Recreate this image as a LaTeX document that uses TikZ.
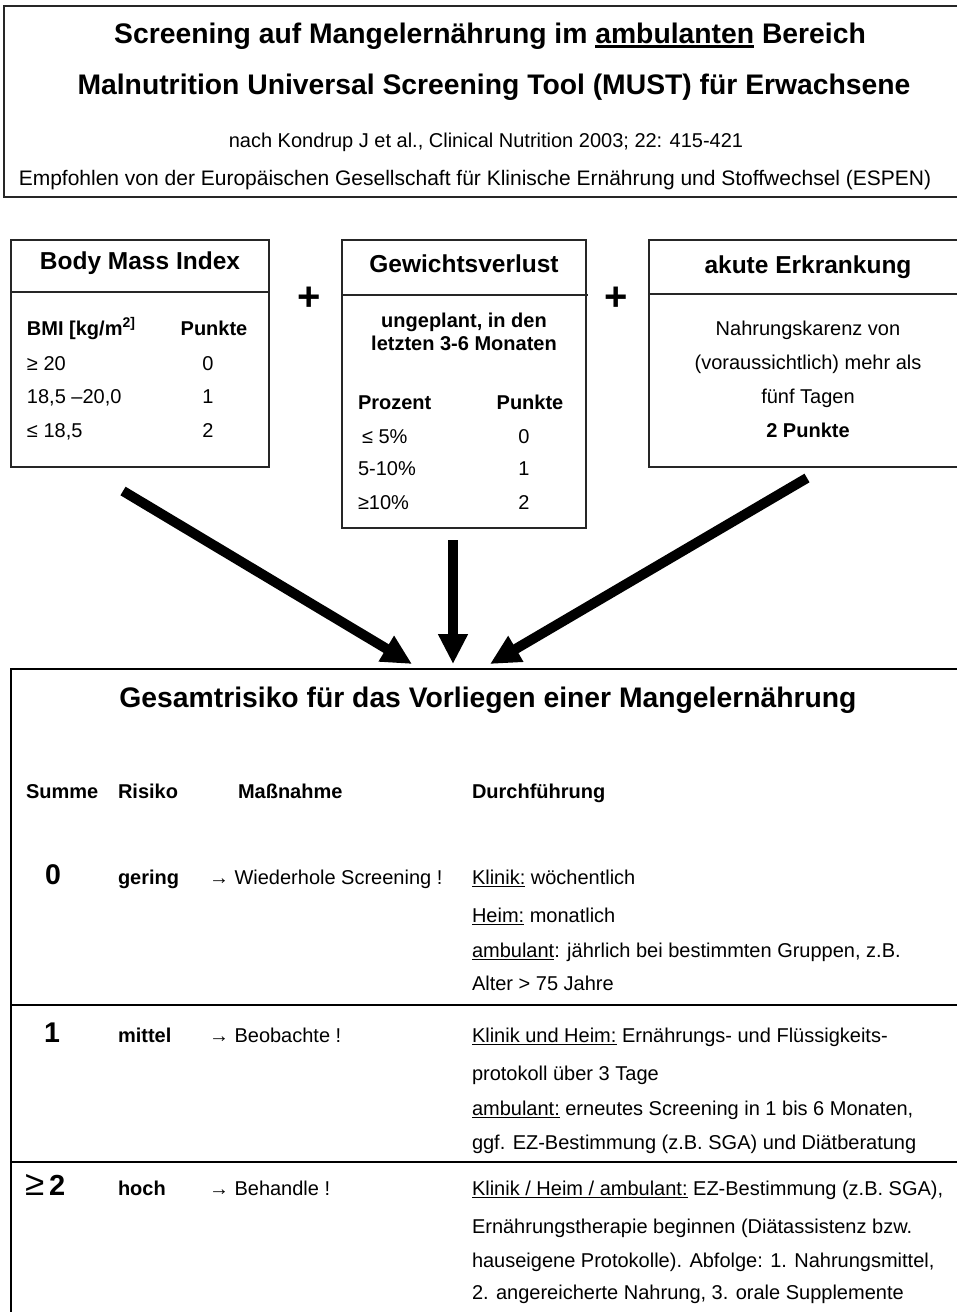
\documentclass[tikz,border=0pt]{standalone}
\usepackage{fontspec}
\setmainfont{Liberation Sans}
\usetikzlibrary{arrows.meta}
\newcommand\myul[1]{\setbox0\hbox{#1}\rlap{\rule[-2.8pt]{\wd0}{1.3pt}}\box0\relax}
\newcommand\myulT[1]{\setbox0\hbox{#1}\rlap{\rule[-4.5pt]{\wd0}{2.4pt}}\box0\relax}
\tikzset{
  every node/.style={inner sep=0pt, outer sep=0pt},
  tb/.style={font=\fontsize{28.3}{32}\selectfont\bfseries},
  hb/.style={font=\fontsize{24.5}{28}\selectfont\bfseries},
  bt/.style={font=\fontsize{20}{24}\selectfont},
  bb/.style={font=\fontsize{20}{24}\selectfont\bfseries},
  bignum/.style={font=\fontsize{28.5}{32}\selectfont\bfseries},
  plus/.style={font=\fontsize{40}{40}\selectfont\bfseries},
  frame/.style={draw=black!85, line width=1.3pt},
  tframe/.style={draw=black, line width=2.5pt},
  bigarrow/.style={line width=10pt, -{Triangle[length=30pt,width=28pt]}},
}
\begin{document}
\begin{tikzpicture}[x=1pt,y=-1pt]
\useasboundingbox (0,0) rectangle (957,1312);
\fill[white] (0,0) rectangle (957,1312);
\clip (0,0) rectangle (957,1312);

% ---------- header ----------
\draw[frame] (975,6) -- (4,6) -- (4,197) -- (975,197);
\node[tb, anchor=base] (t1) at (490,43) {Screening auf Mangelernährung im \myulT{ambulanten} Bereich};
\node[tb, anchor=base] (t2) at (494,94) {Malnutrition Universal Screening Tool (MUST) für Erwachsene};
\node[bt, anchor=base] (t3) at (486,147) {nach Kondrup J et al., Clinical Nutrition 2003; 22: 415-421};
\node[anchor=base, font=\fontsize{21}{24}\selectfont] (t4) at (475,185) {Empfohlen von der Europäischen Gesellschaft für Klinische Ernährung und Stoffwechsel (ESPEN)};

% ---------- box 1: BMI ----------
\draw[frame] (11,240) rectangle (269,467);
\draw[frame] (11,292) -- (269,292);
\node[hb, anchor=base] (bmi) at (140,269) {Body Mass Index};
\node[bb, anchor=base west] (bmih) at (27,335) {BMI [kg/m\textsuperscript{2]}};
\node[bb, anchor=base] (bmip) at (214,335) {Punkte};
\node[bt, anchor=base west] (b1) at (27,370) {≥ 20};
\node[bt, anchor=base west] (b2) at (27,403) {18,5 –20,0};
\node[bt, anchor=base west] (b3) at (27,437) {≤ 18,5};
\node[bt, anchor=base] (b1p) at (208,370) {0};
\node[bt, anchor=base] (b2p) at (208,403) {1};
\node[bt, anchor=base] (b3p) at (208,437) {2};

\node[plus] (plus1) at (309,299) {+};

% ---------- box 2: Gewichtsverlust ----------
\draw[frame] (342,240) rectangle (586,528);
\draw[frame] (342,295) -- (588,295);
\node[hb, anchor=base] (gv) at (464,272) {Gewichtsverlust};
\node[bb, anchor=base] (gv1) at (464,327) {ungeplant, in den};
\node[bb, anchor=base] (gv2) at (464,350) {letzten 3-6 Monaten};
\node[bb, anchor=base west] (gvh) at (358,409) {Prozent};
\node[bb, anchor=base] (gvp) at (530,409) {Punkte};
\node[bt, anchor=base west] (g1) at (362,443) {≤ 5\%};
\node[bt, anchor=base west] (g2) at (358,475) {5-10\%};
\node[bt, anchor=base west] (g3) at (358,509) {≥10\%};
\node[bt, anchor=base] (g1p) at (524,443) {0};
\node[bt, anchor=base] (g2p) at (524,475) {1};
\node[bt, anchor=base] (g3p) at (524,509) {2};

\node[plus] (plus2) at (616,299) {+};

% ---------- box 3: akute Erkrankung ----------
\draw[frame] (975,240) -- (649,240) -- (649,467) -- (975,467);
\draw[frame] (649,294) -- (975,294);
\node[hb, anchor=base] (ak) at (808,273) {akute Erkrankung};
\node[bt, anchor=base] (ak1) at (808,335) {Nahrungskarenz von};
\node[bt, anchor=base] (ak2) at (808,369) {(voraussichtlich) mehr als};
\node[bt, anchor=base] (ak3) at (808,403) {fünf Tagen};
\node[bb, anchor=base] (ak4) at (808,437) {2 Punkte};

% ---------- arrows ----------
\coordinate (l0) at (123,491);
\coordinate (l1) at (412,664);
\coordinate (m0) at (453,540);
\coordinate (m1) at (453,664);
\coordinate (r0) at (807,478);
\coordinate (r1) at (490,664);
\draw[bigarrow] (l0) -- (l1);
\draw[bigarrow] (m0) -- (m1);
\draw[bigarrow] (r0) -- (r1);

% ---------- bottom table ----------
\draw[tframe] (11,1330) -- (11,669) -- (975,669);
\draw[tframe] (11,1005) -- (975,1005);
\draw[tframe] (11,1162) -- (975,1162);

\node[tb, anchor=base] (gr) at (488,707) {Gesamtrisiko für das Vorliegen einer Mangelernährung};

\node[bb, anchor=base west] (hs) at (26,798) {Summe};
\node[bb, anchor=base west] (hr) at (118,798) {Risiko};
\node[bb, anchor=base west] (hm) at (238,798) {Maßnahme};
\node[bb, anchor=base west] (hd) at (472,798) {Durchführung};

% row 0
\node[bignum, anchor=base] (s0) at (53,884) {0};
\node[bb, anchor=base west] (r0r) at (118,884) {gering};
\node[bt, anchor=base west] (r0m) at (209,884) {→ Wiederhole Screening !};
\node[bt, anchor=base west] (r0d1) at (472,884) {\myul{Klinik:} wöchentlich};
\node[bt, anchor=base west] (r0d2) at (472,922) {\myul{Heim:} monatlich};
\node[bt, anchor=base west] (r0d3) at (472,957) {\myul{ambulant}: jährlich bei bestimmten Gruppen, z.B.};
\node[bt, anchor=base west] (r0d4) at (472,990) {Alter > 75 Jahre};

% row 1
\node[bignum, anchor=base] (s1) at (52,1042) {1};
\node[bb, anchor=base west] (r1r) at (118,1042) {mittel};
\node[bt, anchor=base west] (r1m) at (209,1042) {→ Beobachte !};
\node[bt, anchor=base west] (r1d1) at (472,1042) {\myul{Klinik und Heim:} Ernährungs- und Flüssigkeits-};
\node[bt, anchor=base west] (r1d2) at (472,1080) {protokoll über 3 Tage};
\node[bt, anchor=base west] (r1d3) at (472,1115) {\myul{ambulant:} erneutes Screening in 1 bis 6 Monaten,};
\node[bt, anchor=base west] (r1d4) at (472,1149) {ggf. EZ-Bestimmung (z.B. SGA) und Diätberatung};

% row 2
\node[anchor=base west] (s2) at (25,1195) {\fontsize{35}{36}\selectfont ≥\hspace{5pt}\fontsize{29}{32}\selectfont\bfseries 2};
\node[bb, anchor=base west] (r2r) at (118,1195) {hoch};
\node[bt, anchor=base west] (r2m) at (209,1195) {→ Behandle !};
\node[bt, anchor=base west] (r2d1) at (472,1195) {\myul{Klinik / Heim / ambulant:} EZ-Bestimmung (z.B. SGA),};
\node[bt, anchor=base west] (r2d2) at (472,1233) {Ernährungstherapie beginnen (Diätassistenz bzw.};
\node[bt, anchor=base west] (r2d3) at (472,1267) {hauseigene Protokolle). Abfolge: 1. Nahrungsmittel,};
\node[bt, anchor=base west] (r2d4) at (472,1299) {2. angereicherte Nahrung, 3. orale Supplemente};
\end{tikzpicture}
\end{document}
